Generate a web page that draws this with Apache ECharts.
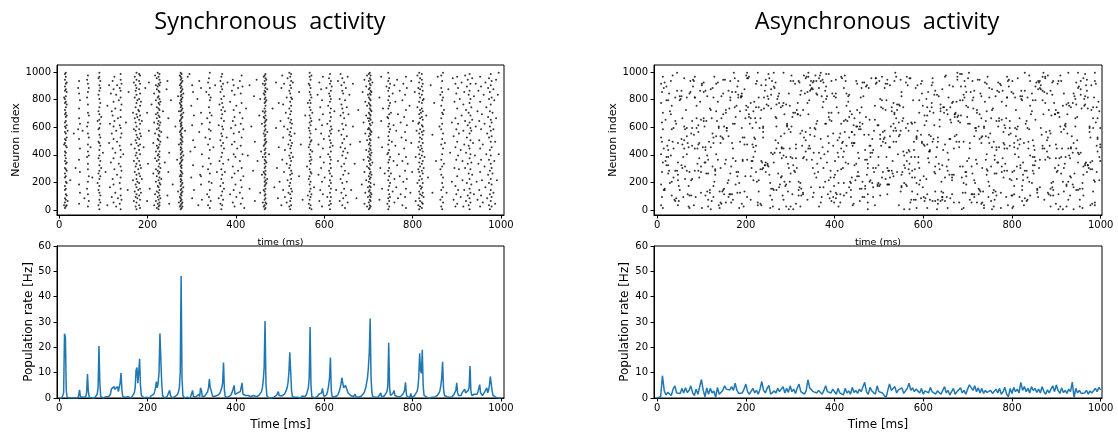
<!DOCTYPE html>
<html><head><meta charset="utf-8">
<script src="https://cdn.jsdelivr.net/npm/echarts@6/dist/echarts.min.js"></script>
<style>html,body{margin:0;padding:0;background:#fff}#c{width:1118px;height:432px}</style>
</head><body><div id="c"></div>
<script>
// ---------------- DATA ----------------
const titles = ['Synchronous  activity', 'Asynchronous  activity'];
const xTicks = [0, 200, 400, 600, 800, 1000];
const rasterYTicks = [0, 200, 400, 600, 800, 1000];
const rateYTicks = [0, 10, 20, 30, 40, 50, 60];
const rasterXName = 'time (ms)';
const rasterYName = 'Neuron index';
const rateXName = 'Time [ms]';
const rateYName = 'Population rate [Hz]';

// Raster bins: bin i covers 2 ms (spike time = 2*i+1 ms); entries = neuron index / 10
const syncRasterBins = [
[],[],[],[],[],[3,47,81],[1,5,8,14,17,23,26,30,35,39,42,48,51,56,60,63,69,72,77,80,86,89,94,98],[2,7,11,15,20,24,29,33,37,41,46,50,55,59,64,67,70,74,78,82,87,91,96,99],[3,10,19,28,34,45,52,61,68,76,85,92],[6,57],
[],[],[21],[],[],[],[55],[],[30],[],
[],[58,88],[4,18,36,51,66,73,84,93],[12,27,44,62,79],[],[],[57],[],[8],[],
[],[15,38,60,81,94],[2,11,20,29,33,42,47,55,63,70,76,85,91,97],[6,24,39,52,68,88],[],[45],[],[23],[],[],
[],[],[],[19,64],[3,14,26,37,49,58,71,83,95],[0,7,12,17,22,28,32,39,43,48,54,59,65,69,74,80,86,90,96,99],[5,10,24,35,46,52,62,77,88,93],[30,67],[],[41],
[],[],[27],[],[3,75],[],[48,90],[16,62],[34,84],[9,55,71],
[22,44,68,93],[5,18,37,51,60,78,87],[29,64,96],[12,41,73],[2,57,83],[25,49,90],[8,66],[33,79],[4,19,46,61,88],[0,10,15,23,31,38,43,52,59,67,72,81,86,94,98],
[7,28,55,76,91],[],[40],[],[],[63],[],[14],[85],[],
[],[47],[],[21,70],[6,35,58,92],[13,27,44,66,81,96],[2,9,18,31,39,50,57,63,74,86,90],[0,5,11,16,22,25,33,41,48,54,60,69,77,83,88,94,99],[8,20,37,52,67,79],[14,29,46,72],
[3,10,19,26,35,43,51,58,65,71,80,87,93,98],[1,7,15,24,32,40,47,55,62,68,75,84,91,97],[12,30,53,78],[22,64],[],[45],[],[88],[],[6,70],
[33],[57,92],[15],[],[76],[],[26,48],[3,63,84],[11,37,55,97],[6,20,29,42,69,79,90],
[1,13,24,35,46,58,66,74,87,95],[4,9,17,28,39,44,51,62,70,81,89,99],[0,2,7,12,16,21,26,31,36,40,45,50,54,59,64,68,73,77,82,86,91,96],[3,5,10,14,19,23,27,33,38,42,47,53,57,61,67,72,76,80,85,90,94,98],[8,18,30,49,63,78,92],[22,56],[],[71],[],[34],
[],[87],[10,52,93],[27,66],[4,41],[],[79],[],[18],[],
[],[60],[],[36],[13,82],[5,47,71],[2,9,24,33,56,64,77,90,97],[0,3,6,8,11,14,17,20,22,25,28,31,34,37,40,43,45,48,51,54,57,60,62,65,68,71,74,76,79,82,85,88,91,94,96,99],[1,4,7,10,12,15,18,21,24,27,30,32,35,38,41,44,47,50,53,55,58,61,63,66,69,72,75,78,80,83,86,89,92,95,98],[2,5,13,19,26,36,42,49,52,59,67,73,81,87,93],
[16,39,70,84],[],[57],[],[],[96],[],[98],[42],[23,75],
[8,61,90],[32,50,85],[14,68],[45],[],[],[80],[3],[56,93],[25],
[18,24,70,88],[7,40,62],[31],[],[],[52],[85],[11,66],[3,29,47,92],[9,20,37,58,74,83,95],
[1,14,26,43,51,63,70,79,88,99],[6,33,57,81],[19,68],[],[45],[],[90],[],[27],[],
[8,61],[35,76],[4,17,50,85,93],[0,10,22,29,38,46,55,66,72,80,89,96],[3,13,25,41,53,60,69,77,87,98],[7,19,33,48,58,74,91],[15,44,64,82],[27,71],[],[52],
[92],[36],[],[11,78],[59],[23,47,86],[5,31,64,94],[14,40,55,72,90],[2,26,49,67,83],[18,38,61],
[9,75],[44],[28,88],[56],[12,35,70,93],[4,21,46,62,84],[16,30,52,77,97],[8,40,66,89],[24,58],[1],
[],[73],[],[39],[],[15,90],[],[60],[],[28],
[82],[6,49],[],[94],[35],[],[68],[12,80],[42],[25,62],
[5,38,71,91],[2,14,27,46,55,67,84,96],[0,3,7,10,13,17,20,23,26,30,33,36,40,43,47,50,53,57,60,63,66,70,73,77,80,83,86,90,93,97],[1,5,8,11,15,18,21,25,28,31,35,38,41,44,48,51,54,58,61,64,68,71,75,78,81,85,88,91,95,98],[4,19,34,49,65,79,94],[22,56,87],[],[40],[],[],
[],[73],[],[16],[],[59,92],[30],[8],[45,77],[20],
[64],[3,88],[36,97],[14,52,76],[27,60,91],[9,43],[70],[5,33,81],[21,58,95],[12,47,66],
[2,17,30,39,54,73,86,99],[0,6,11,19,25,32,37,44,50,56,63,69,78,84,90,96],[3,8,15,22,28,35,41,46,53,59,65,71,75,81,88,93,98],[13,26,48,62,80],[38,92],[],[55],[],[],[],
[],[24,85],[],[47],[],[7],[],[],[68],[],
[31],[10,77],[4,22,45,59,91],[1,7,13,18,24,29,35,40,47,52,57,63,68,74,79,85,90,96,99],[3,9,15,20,27,33,38,43,49,55,61,66,72,77,83,88,94],[0,11,26,36,50,64,81,97],[42,70],[],[16],[],
[58],[],[83],[25,47],[6,65,92],[14,38,74],[30,55,87],[2,20,61,79],[11,44,69,96],[34,51],
[23],[],[88],[9,62],[40,75],[3,17,28,53,84,95],[0,6,12,21,26,33,38,45,50,57,64,70,78,82,91,98],[4,9,15,19,30,36,42,48,55,60,67,73,80,86,93],[24,58,89],[46],
[],[71],[],[14],[],[35,93],[57],[6,80],[22,45,68,98],[12,31,54,76,90],
[3,19,39,48,62,73,86,95],[8,25,42,58,70,84],[15,33,51,66,92],[1,28,44,79],[10,37,61,88],[20,53,74],[5,41,96],[26,69],[83],[47],
[14],[],[60,91],[],[33],[],[8],[],[72],[],
[49],[],[18],[85],[36,63],[4,27,94],[12,55,78],[21,43,68,89],[2,31,50,75,97],[9,16,38,58,66,83],
[0,5,13,20,24,30,35,42,47,53,59,64,70,77,81,87,93,98],[1,3,7,10,14,17,22,26,29,33,37,40,44,48,51,55,58,62,66,69,73,76,80,84,88,91,95,99],[2,6,9,12,16,19,23,27,32,36,39,43,46,50,54,57,61,65,68,72,75,79,83,86,90,94,97],[11,25,41,56,71,85],[34,63,92],[],[18],[],[],[],
[],[52],[7,81],[30],[64,96],[15,45],[73],[],[26],[],
[89],[4,40,67],[0,8,14,21,28,34,41,47,53,60,66,73,79,86,93,99],[2,6,11,17,24,30,36,43,50,56,62,69,75,82,88,95],[9,19,38,58,77,91],[26,70],[49],[13,84],[35,61],[5,22,90],
[46,78],[16,57],[32,94],[8,69],[40],[24,86],[11,63],[52],[3,35,79],[20,91],
[44,67],[9,28,56,83],[1,15,38,50,72,96],[22,61,88],[33],[],[75],[12],[48,93],[27],
[64],[],[85],[6,38],[57],[19,74,97],[3,29,45,62,88],[0,8,13,21,27,34,40,49,55,63,69,78,84,92,99],[2,6,11,17,24,31,37,43,52,58,66,72,81,87,95],[15,46,70],
[1,5,10,16,22,28,33,39,44,51,56,61,67,73,77,83,89,94,98],[4,12,19,26,35,42,48,54,60,65,71,79,86,91],[9,30,57,80],[38],[],[68],[],[23],[],[],
[90],[],[12,54],[],[77],[],[35],[],[96],[],
[60],[7,29,83],[2,14,25,36,47,58,66,75,88,97],[0,9,19,31,40,51,62,70,79,85,93],[5,16,23,44,55,69,81,99],[33,72],[48],[],[12],[],
[87],[],[41],[],[20,63],[95],[7,53],[30,78],[2,17,45,66,91],[11,36,58,84],
[4,24,49,73,96],[14,39,62,88],[29,55],[80],[9,43],[68,92],[21,35],[2,57,76],[14,47,85],[30,64,97],
[6,41,72],[19,52,89],[10,33,61,94],[3,26,46,70,83],[0,8,15,22,37,44,55,63,77,86,98],[5,12,29,40,50,59,68,80,91],[18,34,57,74],[25,65,95],[48],[11,82],
[39],[60,91],[20],[7,71],[33,86],[14,50,64],[2,27,44,78,96],[10,36,58,89],[21,69],[5,47],
[83],[31,62],[16,92],[40,74],[8,55],[25,67,88],[3,19,36,52,80,95],[0,11,28,43,60,71,85],[6,14,22,33,39,49,57,65,76,90,98],[2,9,18,30,45,53,63,81,93],
[26,70],[12,58,87],[35,79],[4,49],[66,94],[21],[83],[40,99],[],[]
];

const asyncRasterBins = [
[],[],[],[],[3,18,40,52,77,91],[9,27,49,63,85],[1,34,58,70,96],[14,44,88],[14,15,92],[65,35],
[89,79,32,38],[46],[26,43,38,32,79],[50,28,84],[19,71],[69,39,93],[75,10,58,20],[97,49],[44,59,23],[7],
[81,64,6,28],[62,8],[99,86,28],[3,48,25,34,21],[17,6],[79,82,14],[80],[86,51,32,82],[30,66,47],[9,38],
[44,60,95,50],[58,22,31],[72],[53,59,40,81,28],[48,11],[17,45,2],[84,10,27,1],[93,85],[21,10,55],[59,64,46,22],
[94,89],[54,93,3],[81,96,44,28,81],[9],[75,66,59],[33,44],[61,28,47,56],[48,23,37],[86,78],[31,65,27,12],
[1,90,91],[45],[64,85,66,92],[34,60],[34,86,10,45,43],[26,64],[82,13,39],[36,7,26,2],[49],[14,12,73],
[72,45,87,0],[66,6],[31,55,88],[17,48,81,52,9],[20,96],[28,29,25],[40,91,71,53],[64],[36,78,92],[59,3,60],
[1,13],[30,53,5,48],[82,4,66],[52,13],[84,14,69,51,94],[15,11,60],[94,33],[5,72,70,36],[57,59,59],[19],
[53,9,21,86],[11,73],[81,93,26,11,79],[31,5],[11,85,48],[7,44,62,37],[99],[62,74,95],[67,35,18,85],[75,27],
[24,89,12],[27,93,81,83],[1,19],[49,12,71],[82,81],[82,84,59,4],[52,35,36],[2],[87,47,13,52],[66,24],
[97,75,72],[47,9,36,99,95],[95,74],[96,69,67],[62],[77,24,7,66],[30,35],[35,47,59],[45,71,38,21],[78,52],
[51,66,42],[74,27,46,63,91],[93,20],[3,5,99],[21,81,74,13],[59],[66,29,4],[35,72,90,3],[34,29],[52,60,59,56,30],
[73,81],[32,32,86],[27,94,34,90],[76],[32,33,82],[98,80,75,31],[95,25],[10,19,1],[15,73,83,41,87],[93,7],
[2,15,40],[89,14,99,34],[88,41],[67,50,92],[44,76,14,60,66],[80],[82,26,48],[0,16,84,77],[41,18],[53,74,23],
[45,44,24,37],[10,75],[39,7,77,44,99],[20,69,55],[17],[2,76,18,38],[60,62,61],[33,13],[84,58,30,0],[75,20,44],
[93,38,26,56,2],[97,60],[67,37,11],[32,0,70,93],[28],[70,91,27],[44,37,47,4],[72,30],[69,69,77],[20,93,10,14],
[16,92],[83,68,19,2,55],[15,10,86],[57,46],[37,72,11,12],[52,38,97],[84],[42,50,56,95],[36,96],[77,7,85],
[44,99,69,96],[79,46],[86,44,54,90,59],[87,93,16],[36,88],[92,30,9,87],[93,12,41],[59,26,53],[58,97],[93,23,84,62],
[64,33,83],[27],[95,2,88,41],[97,16],[93,99,37,51,5],[82,9],[74,94,45],[92,30,78,16],[40],[62,86,20],
[89,98,62,80],[34,82],[53,42,11],[70,67,98,21,48],[8,65],[13,28,23],[6,64,70,93],[84],[46,9,55],[5,82,23,17],
[25,35],[94,8,12,84,81],[11,74],[50,28,41],[2,70,19,38],[52],[11,5,55],[96,44,62,29],[48,95],[49,30,38],
[19,64,42,88,10],[97,56],[65,93,34],[46,12,84,75],[64],[82,33,78],[67,83,16,52],[71,20],[19,9,14],[56,48,56,69,23],
[46,3],[48,61,4],[54,32,66,48],[21],[33,93,60],[72,60,24,91],[41,27],[37,24,58],[70,6,60,63,15],[58,81],
[74,88,15],[20,92,9,62],[82],[92,54,9],[17,15,36,43],[67,89],[25,90,36],[0,11,33,5,30],[54,88],[20,46,65],
[21,38,41,46],[95],[19,41,51],[16,9,43,30],[57,27],[3,65,75],[95,91,95,30],[92],[18,61,17],[38,19,32,61],
[17,93],[10,51,18,54,80],[74,46],[23,79,96],[27,49,56,73],[51],[88,57,52],[72,48,91,22],[79,38],[18,30,11,94,91],
[18,28],[18,28,45],[90,45,23,53],[60],[28,74,71],[35,26],[62,49,77,57,24],[70,93,69],[99,59],[57,49,66,96],
[76,27,72],[40],[76,63,3,53],[54,75],[94,57,13],[82,17,85,25,16],[64,27],[42,74,66],[39,19,32,0],[30],
[59,92,18],[17,41,35,96],[62,90],[43,57,29],[0,33,42,95,26],[5,95],[63,7,38],[13,23,28,62],[79],[43,49,7],
[63,23,38,29],[88,7],[53,19,52,51,1],[90,11,57],[38,34],[18,79,30,70],[21],[54,8,91],[49,93,48,84],[16,75],
[9,24,47],[61,46,6,68],[8],[22,64,80],[1,68,47,74,11],[85,37],[42,34,54],[42,43,71,7],[53],[90,77,74],
[49,92,6,95],[51,70],[27,61,83],[86,6,26,13,31],[38],[45,83,0],[7,52,4,49],[33,82],[65,60,29],[76,6,73,71],
[13,20],[7,9,32,87,9],[12,74,43],[74,70],[47,23,6,96],[97],[72,9,31],[1,41,69,28],[36,81],[90,25,51],
[51,8,65,74],[63],[77,21,11,25,23],[89,78],[44,25,5],[69,53,69,67],[70],[78,54,49],[96,99,67,94],[68,64],
[45,49,5],[98,79,31,63],[68,89],[23,0,98],[79,31,12],[49,19,1,83],[81,93],[27,12,89],[24,27,75,85,18],[35,67],
[95,74,62],[99,37],[62,44,7,48],[85],[11,5,31],[79,11,26,93],[81,73],[11,86,21,9,53],[19,59],[59,57,36],
[70,72,5,33],[94],[60,11,15],[94,51,69,14],[84,13],[52,66,4,82,48],[5,53,30],[13],[1,60,3,59],[92,78],
[36,64,53],[71,91,40,25,29],[28,96],[20,9,52],[81,48,17,88],[55],[31,6,66],[0,87,45,72],[73,12],[14,49,2],
[26,7,36,39],[13,82],[64,26,43,45,10],[86,34],[60,34,92],[66,85,64,45],[91],[90,1,12],[27,65,31,78],[86,37],
[23,48,56],[47,28,61,44],[33,59],[66,75,9],[81,28,44,96,81],[3,93],[54,89,94],[22,46,64,59],[55],[10,21,85],
[93,1,27,10],[84,2],[45,17,11,48,28],[81,40,59],[53,72],[31,22,58],[50,95,60,44],[38],[9,47,66],[30,82,32,51],
[86,80],[14,82,79,6,17],[21,34,25],[48,3],[28,86,99,8],[62],[28,6,64],[81,7,23,59],[44,49],[97,20,58],
[10,75,93,39],[69],[71,19,84],[28,50,79,32,38],[46,26],[43,38,32],[79,89,35,65],[92],[15,14,12],[93,87,9],
[30,92],[88,36,16,93],[87,59,90],[54],[44,86,46,79,96],[69,99],[44,85,7],[77,96,36,95],[56],[50,42,84],
[97,38,52,12],[11,72],[37,46,57],[86,10,15,55,2],[19,68],[83,92,16],[14,10,93,20],[77],[69,69,30],[72,4,47,37],
[44,27],[91,70,28],[93,70,0,32,11],[37,67],[60,97,2],[56,26,38,93],[44],[20,75,0],[30,58,84,13],[33,61],
[62,60,38],[18,76,2,17],[55,69],[20,99,44,77,7],[39,75],[10,37,24],[44,45,23,74],[53],[18,41,77],[84,16,0,48],
[26,82],[80,66,60],[14,76,44,92],[50,67],[41,88,34,99,14],[89,40],[15,2,7],[93,87,41,83],[73],[15,1,19],
[10,25,95,31],[75,80],[98,82,33,32,76],[90,34],[94,27,86],[32,32,81,73],[30],[56,59,60],[52,29,34,3],[90,72],
[35,4,29],[66,59,13,74],[81,21],[99,5,3,20,93],[91,63],[46,27,74],[42,66,51,52],[78],[21,38,71],[45,59,47,35]
];

// Population rate, synchronous: one value every 2 ms from 0 to 1000 ms (Hz)
const syncRate = [
0,0,0,0,0,2,25.4,24,3,0.3,
0,0,0,0,0,0,0.3,0,0,0,
0.5,0,1,3.2,0.5,0,0,0.3,0,0,
0.5,2,9.5,2.5,0.3,0,0.3,0,0,0,
0,0.3,0.5,1.5,4,20.5,6,0.5,0,0,
0,0.3,0,0.5,0.3,0.8,0.5,1,1.5,3.5,
4,3,4.5,3.5,4,3,4.5,2.5,3,6,
9.9,3,0.5,0.3,0,0.3,0,0,0.5,0,
0.3,0,0.5,0.8,1.5,2,4,11,12,5.8,
10,15.5,5,1,0.5,0.3,0,0.5,0,0.3,
0,0.5,0,0.3,0.8,0.5,1,1.5,2.5,4,
6.5,4,6,10,25.5,26,6,1,0.3,0,
0.3,0,0.5,0.8,1.2,3,1,0.3,0,0,
0.3,0.5,0.8,1,1.5,2.5,4,10,48.2,8,
1,0.5,0,0.3,0,0.3,0.5,0.3,0,0.8,
1.5,3,0.5,0.3,0,0.5,0,0.8,1.5,0.5,
4,3,0.5,0.3,1,0.8,1.5,1,2.5,4,
7.5,4,3,1.5,0.5,0.3,0.5,0.8,1,1.2,
1.2,1.5,2,3,4,6,14,3,0.5,0.3,
0,0.3,0.5,0.8,1,1.5,2.5,2,5,1.5,
1.5,1,2,1.8,1.5,2.5,2,6,1.5,1.2,
1.5,1,1.2,0.8,1,0.5,0.8,0.5,0.3,0.5,
1,1.5,1,0.5,0.3,0.5,1,1.5,1.5,2.5,
4,7,12,30.4,6,1,0.3,0,0.3,0,
0,0.3,0.5,0.3,0.8,0.5,1,1.5,2.5,1,
0.5,0.3,0.8,0.5,1,1.5,2,3,4,6,
10,18,17.5,3,0.5,0.3,0,0.3,0,0,
0.3,0.5,0.3,0,0.5,0.8,0.5,0.3,0.5,1,
1.5,2,4,8,28,5,0.5,0.3,0,0,
0.3,0,0.5,0.8,1.5,1,1.2,2,3.8,1.5,
0.5,0.3,0.8,1.5,3,5,8,16,3,0.5,
0,0.3,0.5,0.3,0.8,1,1.5,2.5,4,5.5,
8,6,4,3.5,5,4,3,2,2.5,1.5,
1,0.8,1.5,0.5,0.8,1.5,0.5,0.3,0,0.3,
0.5,0.3,0.8,1,1.5,2,3,4,6,8,
12,18,31.4,8,2,0.5,0.3,0,0.3,0,
0,0.3,0.5,0.8,2,0.5,0.3,0.5,0.8,1,
1.5,2.5,5,21.8,4,1,0.5,1,2,3,
1,0.5,0.3,0.5,0.3,0.8,0.5,1,0.8,1.5,
2,3,6.2,1.5,0.5,0.3,0.5,0.3,1.8,0.3,
0.3,0.5,0.8,1,1.5,2.5,4,8,17.6,11,
9.7,19,5,1,0.3,0.5,0.3,0,0.3,0,
0.3,0.5,0.3,0.8,0.5,0.3,0.5,0.8,1,1.5,
2,3,5,8,14.3,4,1,0.5,0.3,0.5,
0.3,0.5,0.3,0.8,1,0.5,1,1.5,2,3,
6,2,1,0.8,1.5,1,2,1.5,2.5,3.5,
2,1.5,2.5,3,4,12.6,3,1,0.5,1,
1.5,1,2,1.5,2.5,3,5.3,2,1.5,1,
1.5,2,1.5,2.5,4,2,3,5,8.5,8.7,
3,1,0.5,0.8,0.3,0.5,0.3,0,0.5,0.3,
0
];

// Population rate, asynchronous: one value every 4 ms from 0 to 1000 ms (Hz)
const asyncRate = [
0,0,0.5,8.8,3,1.2,2.2,1.5,1,3.5,
4.8,2,2.5,1.8,3.8,2,4,2.2,3,4.8,
2,1,3.5,1.5,2.2,7.3,3,0.5,4,1.5,
3.8,2,2.8,0.2,4.2,1.5,2,3,4.8,3.5,
4,3.2,4.5,3,5.8,3,1.8,2.5,2,3.5,
5.5,2.5,1.5,2.2,3.8,2,3,1.5,3.5,6.5,
3,2,3.8,5,1.5,1,2.8,2,3.8,2.5,
3.5,4.5,2,3.8,2.2,4.8,2.5,3.5,1.8,4,
5.5,2.5,3,1.5,2.8,7.2,4,3.5,2.5,3.2,
2,3,2.8,1.5,3,4.8,2.5,3.2,2,3.5,
2.8,1.5,3.8,2,2.5,1.2,3.8,2,2.8,1.5,
4.2,2.2,3,1.8,3.5,2.5,3.2,6.2,2.5,1.5,
4.2,2.8,3.5,1.5,4.8,2.5,3,2,1.5,0,
3,5.5,3,2.5,4.5,2,3.2,2.5,4,1.8,
2.5,3.8,5.8,3,4,2.5,3.5,3,2,3.8,
1.5,2.8,3.5,2,4.2,2.5,3.2,1.5,2.8,3.5,
1.5,2.2,4.5,2,3,1.2,2.5,3.8,1.5,2.5,
1.8,4,2,3,1.5,3.5,5.2,4.5,3,4.8,
2.5,4,2,3.8,1.8,3,2.2,1.5,3,1.8,
2.5,3.5,2,3.8,1.5,2.5,4.2,1.5,0.5,3.8,
1.8,4.2,2.5,3.5,2,6.2,3,4.5,2.5,3.8,
2,4.5,3,3.8,2.2,3.5,2,4.5,2.5,1.5,
3.2,2,3.5,4.8,2.5,5.2,3,1.8,4,2.2,
3,1.8,3.5,2.5,6.3,0.2,3.8,2,3,1.8,
2.5,2,3,1.5,2.8,2,1.5,3.8,2.5,4.2,
3.2
];

// ---------------- CHART ----------------
const BLACK = '#000';
const TICK_FONT = 'DejaVu Sans';

function rasterPoints(bins) {
  const pts = [];
  bins.forEach((b, i) => b.forEach(n => pts.push([i * 2 + 1, n * 10 + 5])));
  return pts;
}
function ratePoints(vals, stepMs) {
  return vals.map((v, i) => [i * stepMs, v]);
}
function gridDef(left, top, width, height) {
  return { left, top, width, height, show: true, borderColor: BLACK, borderWidth: 1,
           backgroundColor: 'transparent', containLabel: false, outerBoundsMode: 'none' };
}
const plainLabel = v => String(v);
function xAx(gi, min, max, name, nameSize, nameGap) {
  return {
    type: 'value', gridIndex: gi, min, max, name, nameLocation: 'middle', nameGap,
    nameTextStyle: { fontFamily: TICK_FONT, fontSize: nameSize, color: BLACK },
    axisLine: { show: true, onZero: false, lineStyle: { color: BLACK, width: 1 } },
    axisTick: { show: true, length: 3.5, customValues: xTicks, lineStyle: { color: BLACK, width: 1 } },
    axisLabel: { customValues: xTicks, formatter: plainLabel, margin: 5, fontFamily: TICK_FONT, fontSize: 10, color: BLACK },
    splitLine: { show: false }
  };
}
function yAx(gi, min, max, ticks, name, nameSize, nameGap) {
  return {
    type: 'value', gridIndex: gi, min, max, name, nameLocation: 'middle', nameGap,
    nameTextStyle: { fontFamily: TICK_FONT, fontSize: nameSize, color: BLACK },
    axisLine: { show: true, onZero: false, lineStyle: { color: BLACK, width: 1 } },
    axisTick: { show: true, length: 3.5, customValues: ticks, lineStyle: { color: BLACK, width: 1 } },
    axisLabel: { customValues: ticks, formatter: plainLabel, margin: 6, fontFamily: TICK_FONT, fontSize: 10, color: BLACK },
    splitLine: { show: false }
  };
}
function titleText(x, text) {
  return { type: 'text', x, y: 10, style: { text, font: '23.5px "Open Sans"', fill: BLACK,
           align: 'center', verticalAlign: 'top', textAlign: 'center', textVerticalAlign: 'top' } };
}

const chart = echarts.init(document.getElementById('c'), null, { renderer: 'canvas' });
chart.setOption({
  animation: false,
  backgroundColor: '#fff',
  graphic: [ titleText(270, titles[0]), titleText(877, titles[1]) ],
  grid: [
    gridDef(57, 65, 447, 150),
    gridDef(57, 246, 447, 152),
    gridDef(654, 65, 448, 150),
    gridDef(654, 246, 448, 152)
  ],
  xAxis: [
    xAx(0, -5, 1007, rasterXName, 9.5, 23),
    xAx(1, -5, 1007, rateXName, 12, 21),
    xAx(2, -7, 1003, rasterXName, 9.5, 23),
    xAx(3, -7, 1003, rateXName, 12, 21)
  ],
  yAxis: [
    yAx(0, -36, 1051, rasterYTicks, rasterYName, 11, 33),
    yAx(1, 0, 60, rateYTicks, rateYName, 12, 22),
    yAx(2, -36, 1051, rasterYTicks, rasterYName, 11, 31),
    yAx(3, 0, 60, rateYTicks, rateYName, 12, 23)
  ],
  series: [
    { type: 'scatter', xAxisIndex: 0, yAxisIndex: 0, data: rasterPoints(syncRasterBins),
      symbol: 'circle', symbolSize: 2, itemStyle: { color: BLACK }, silent: true },
    { type: 'line', xAxisIndex: 1, yAxisIndex: 1, data: ratePoints(syncRate, 2),
      showSymbol: false, lineStyle: { color: '#1f77b4', width: 1.5 }, silent: true },
    { type: 'scatter', xAxisIndex: 2, yAxisIndex: 2, data: rasterPoints(asyncRasterBins),
      symbol: 'circle', symbolSize: 2, itemStyle: { color: BLACK }, silent: true },
    { type: 'line', xAxisIndex: 3, yAxisIndex: 3, data: ratePoints(asyncRate, 4),
      showSymbol: false, lineStyle: { color: '#1f77b4', width: 1.5 }, silent: true }
  ]
});
</script>
</body></html>
